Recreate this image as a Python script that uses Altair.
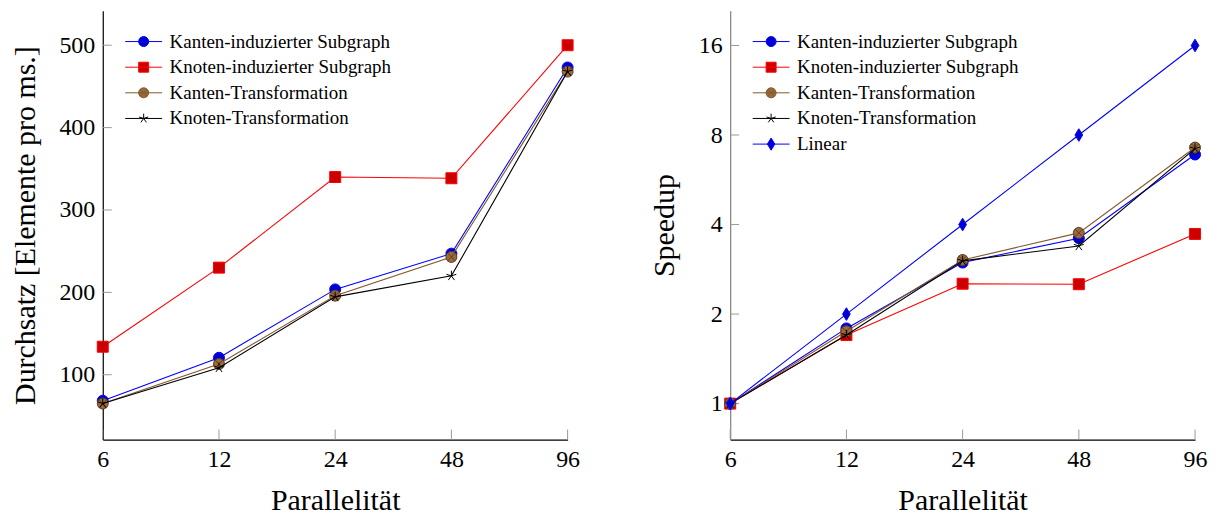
import altair as alt
import pandas as pd

# ---------------- data ----------------
parallelism = [6, 12, 24, 48, 96]
series_names = [
    "Kanten-induzierter Subgraph",
    "Knoten-induzierter Subgraph",
    "Kanten-Transformation",
    "Knoten-Transformation",
    "Linear",
]

thr_kanten_sub = [68.5, 120.6, 203.6, 247, 473]
thr_knoten_sub = [134, 230, 340, 338.5, 500]
thr_kanten_trans = [65, 113, 196, 243, 468]
thr_knoten_trans = [65, 108.5, 194.5, 220, 468]

spd_kanten_sub = [1, 1.79, 2.98, 3.6, 6.88]
spd_knoten_sub = [1, 1.70, 2.53, 2.52, 3.72]
spd_kanten_trans = [1, 1.75, 3.04, 3.75, 7.26]
spd_knoten_trans = [1, 1.70, 3.02, 3.39, 7.2]
spd_linear = [1, 2, 4, 8, 16]

x_ticks = [6, 12, 24, 48, 96]
thr_ticks = [100, 200, 300, 400, 500]
spd_ticks = [1, 2, 4, 8, 16]

# ---------------- style ----------------
FONT = "Liberation Serif"
W, H = 466, 430
line_colors = ["#0000ff", "#ff0000", "#80592d", "#000000", "#0000ff"]
mark_fills = ["#0000cc", "#cc0000", "#9b6a3b", "#000000", "#0000cc"]
mark_strokes = ["#0000ff", "#ff0000", "#5e3f20", "#000000", "#0000ff"]

star = "M0,0L0,-0.95M0,0L0.9,-0.29M0,0L0.56,0.77M0,0L-0.56,0.77M0,0L-0.9,-0.29"
otimes = ("M1,0A1,1 0 1,1 -1,0A1,1 0 1,1 1,0Z"
          "M-0.7,-0.7L0.7,0.7M-0.7,0.7L0.7,-0.7")
diamond = "M0,-1.15L0.7,0L0,1.15L-0.7,0Z"
plot_shapes = ["circle", "square", otimes, star, diamond]

r = 0.27
leg_paths = [
    f"M-1,0H1M{r},0A{r},{r} 0 1,1 -{r},0A{r},{r} 0 1,1 {r},0Z",
    f"M-1,0H1M-{r},-{r}H{r}V{r}H-{r}Z",
    f"M-1,0H1M{r},0A{r},{r} 0 1,1 -{r},0A{r},{r} 0 1,1 {r},0Z"
    f"M-0.19,-0.19L0.19,0.19M-0.19,0.19L0.19,-0.19",
    "M-1,0H1M0,0L0,-0.26M0,0L0.25,-0.08M0,0L0.15,0.21M0,0L-0.15,0.21M0,0L-0.25,-0.08",
    "M-1,0H1M0,-0.33L0.2,0L0,0.33L-0.2,0Z",
]


def panel(values, names, y_domain, y_ticks, y_title, log_y, y_axis_color, title_x):
    n = len(names)
    rows = []
    for name, vals in zip(names, values):
        for p, v in zip(parallelism, vals):
            rows.append({"series": name, "p": p, "v": v})
    df = pd.DataFrame(rows)

    xenc = alt.X(
        "p:Q",
        scale=alt.Scale(type="log", base=2, domain=[6, 96], nice=False),
        axis=alt.Axis(values=x_ticks, title="Parallelität", format="d",
                      ticks=False, grid=False, labelFlush=False,
                      labelOverlap=False, domainColor="#000000"),
    )
    if log_y:
        yscale = alt.Scale(type="log", base=2, domain=y_domain, nice=False)
    else:
        yscale = alt.Scale(domain=y_domain, nice=False, zero=False)
    yenc = alt.Y(
        "v:Q",
        scale=yscale,
        axis=alt.Axis(values=y_ticks, title=y_title, format="d", ticks=False,
                      grid=False, labelOverlap=False, domainColor=y_axis_color,
                      titleX=title_x, titleBaseline="middle", titleAngle=270),
    )

    layers = []
    layers.append(
        alt.Chart(pd.DataFrame({"v": y_ticks}))
        .mark_rule(color="#9a9a9a", strokeWidth=1)
        .encode(y=yenc, x=alt.value(0), x2=alt.value(9))
    )
    layers.append(
        alt.Chart(pd.DataFrame({"p": x_ticks}))
        .mark_rule(color="#9a9a9a", strokeWidth=1)
        .encode(x=xenc, y=alt.value(H), y2=alt.value(H - 10))
    )
    for i, name in enumerate(names):
        base = alt.Chart(df[df["series"] == name])
        layers.append(
            base.mark_line(color=line_colors[i], strokeWidth=1.1).encode(x=xenc, y=yenc)
        )
        layers.append(
            base.mark_point(shape=plot_shapes[i], filled=True, fill=mark_fills[i],
                            stroke=mark_strokes[i], strokeWidth=1, size=121,
                            opacity=1).encode(x=xenc, y=yenc)
        )

    leg = alt.Legend(title=None, orient="none", legendX=22, legendY=21,
                     labelFont=FONT, labelFontSize=19, labelColor="#000000",
                     labelLimit=0, clipHeight=20, rowPadding=5.7, labelOffset=7,
                     padding=0, symbolStrokeWidth=1, symbolSize=1369)
    layers.append(
        alt.Chart(df)
        .transform_filter("false")
        .mark_point(filled=True, size=1369, strokeWidth=1, opacity=1)
        .encode(
            shape=alt.Shape("series:N", scale=alt.Scale(domain=names, range=leg_paths[:n]), legend=leg),
            fill=alt.Fill("series:N", scale=alt.Scale(domain=names, range=mark_fills[:n]), legend=leg),
            stroke=alt.Stroke("series:N", scale=alt.Scale(domain=names, range=line_colors[:n]), legend=leg),
        )
    )
    return alt.layer(*layers).properties(width=W, height=H)


left = panel(
    [thr_kanten_sub, thr_knoten_sub, thr_kanten_trans, thr_knoten_trans],
    series_names[:4], [21.3, 542], thr_ticks,
    "Durchsatz [Elemente pro ms.]", False, "#000000", -77,
)
right = panel(
    [spd_kanten_sub, spd_knoten_sub, spd_kanten_trans, spd_knoten_trans, spd_linear],
    series_names, [0.757, 20.96], spd_ticks, "Speedup", True, "#808080", -66,
)

chart = (
    alt.hconcat(left, right, spacing=70)
    .resolve_scale(shape="independent", fill="independent", stroke="independent",
                   x="independent", y="independent")
    .resolve_legend(shape="independent", fill="independent", stroke="independent")
    .properties(padding={"left": 2, "top": 2, "right": 4, "bottom": 2})
    .configure_view(stroke=None)
    .configure_axis(
        labelFont=FONT, titleFont=FONT, labelFontSize=24, titleFontSize=30,
        labelColor="#000000", titleColor="#000000", titleFontWeight="normal",
        labelPadding=8, titlePadding=14, domainWidth=1.2,
    )
)

chart.save("out.html", embed_options={"renderer": "svg", "actions": False})
